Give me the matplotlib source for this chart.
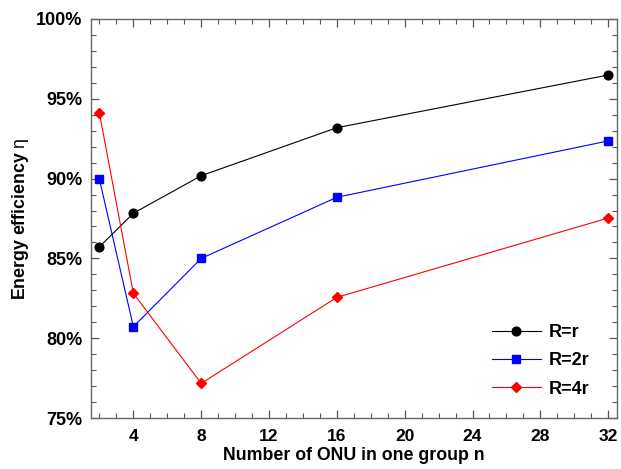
import matplotlib
matplotlib.use("Agg")
import matplotlib.pyplot as plt
from matplotlib.ticker import MultipleLocator, FuncFormatter

plt.rcParams['font.family'] = ['Liberation Sans', 'DejaVu Sans']
plt.rcParams['mathtext.fontset'] = 'custom'
plt.rcParams['mathtext.it'] = 'Liberation Sans'
plt.rcParams['mathtext.rm'] = 'Liberation Sans'

n_values = [2, 4, 8, 16, 32]
eff_r = [85.73, 87.83, 90.18, 93.19, 96.49]
eff_2r = [89.95, 80.72, 85.0, 88.83, 92.36]
eff_4r = [94.09, 82.81, 77.17, 82.56, 87.53]
series_labels = ['R=r', 'R=2r', 'R=4r']
x_ticks = [4, 8, 12, 16, 20, 24, 28, 32]
y_ticks = [75, 80, 85, 90, 95, 100]

fig = plt.figure(figsize=(6.21, 4.69), dpi=100)
ax = fig.add_axes([0.1465, 0.1087, 0.8465, 0.8508])

ax.plot(n_values, eff_r, color='black', lw=0.8, marker='o', ms=6.3, label=series_labels[0])
ax.plot(n_values, eff_2r, color='#0000ff', lw=0.8, marker='s', ms=5.6, label=series_labels[1])
ax.plot(n_values, eff_4r, color='#ff0000', lw=0.8, marker='D', ms=5.0, label=series_labels[2])

ax.set_xlim(1.5, 32.5)
ax.set_ylim(75, 100)
ax.set_xticks(x_ticks)
ax.set_yticks(y_ticks)
ax.xaxis.set_minor_locator(MultipleLocator(1))
ax.yaxis.set_minor_locator(MultipleLocator(1))
ax.yaxis.set_major_formatter(FuncFormatter(lambda v, p: f"{int(round(v))}%"))

for s in ax.spines.values():
    s.set_color('#666666')
    s.set_linewidth(1.0)

ax.tick_params(which='both', direction='in', top=True, right=True, color='#555555')
ax.tick_params(which='major', length=6, width=0.9)
ax.tick_params(which='minor', length=3.5, width=0.8)
ax.tick_params(axis='x', which='major', pad=8, labelsize=12.5)
ax.tick_params(axis='y', which='major', pad=6, labelsize=13)
for lab in ax.get_xticklabels() + ax.get_yticklabels():
    lab.set_fontweight('bold')

ax.set_xlabel('Number of ONU in one group n', fontsize=12.8, fontweight='bold', labelpad=2)
ax.set_ylabel(r'Energy efficiency $\mathit{\eta}$', fontsize=12.8, fontweight='bold', labelpad=4)

leg = ax.legend(loc='lower right', bbox_to_anchor=(0.962, 0.033), borderaxespad=0,
                frameon=False, handlelength=2.7, labelspacing=0.62, handletextpad=0.45,
                prop={'weight': 'bold', 'size': 13})

fig.savefig('out.png', dpi=100)
